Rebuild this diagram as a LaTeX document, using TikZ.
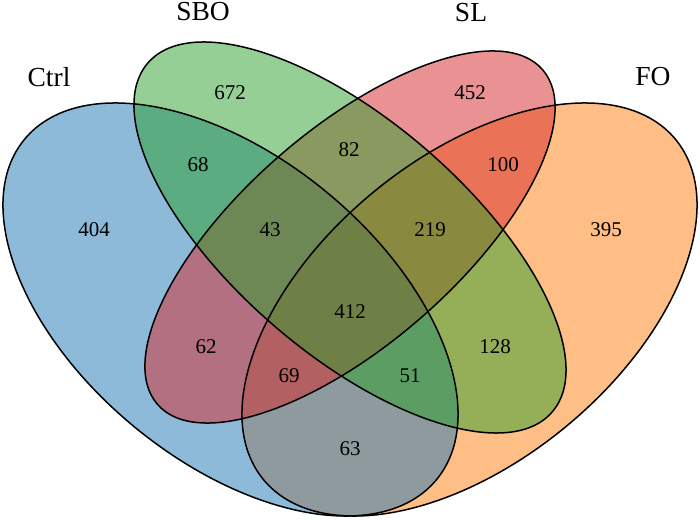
\documentclass[tikz,border=0pt]{standalone}
\usepackage{fontspec}
\setmainfont{Liberation Serif}
\definecolor{cfo}{HTML}{FF7F0E}
\definecolor{cctrl}{HTML}{1F77B4}
\definecolor{csl}{HTML}{D62728}
\definecolor{csbo}{HTML}{2CA02C}
\begin{document}
\begin{tikzpicture}[x=1pt,y=1pt,
  num/.style={font=\fontsize{21}{21}\selectfont, inner sep=0pt},
  setlabel/.style={font=\fontsize{27.5}{27.5}\selectfont, inner sep=0pt},
  setfill/.style={fill opacity=0.5},
  outline/.style={draw=black, line width=1.5pt},
  foell/.style={shift={(469.5,209.5)},rotate=39.57},
  ctrlell/.style={shift={(230.5,209.5)},rotate=-39.57},
  slell/.style={shift={(350,282)},rotate=41.0},
  sboell/.style={shift={(350,281.5)},rotate=-40.8}]
\useasboundingbox (0,0) rectangle (700,519);
\fill[white] (0,0) rectangle (700,519);
% fills (order: FO, Ctrl, SL, SBO)
\fill[cfo,setfill,foell] (0,0) ellipse [x radius=267.2pt, y radius=151.7pt];
\fill[cctrl,setfill,ctrlell] (0,0) ellipse [x radius=267.2pt, y radius=151.7pt];
\fill[csl,setfill,slell] (0,0) ellipse [x radius=255.1pt, y radius=107.5pt];
\fill[csbo,setfill,sboell] (0,0) ellipse [x radius=267.05pt, y radius=116.4pt];
% outlines
\draw[outline,foell] (0,0) ellipse [x radius=267.2pt, y radius=151.7pt];
\draw[outline,ctrlell] (0,0) ellipse [x radius=267.2pt, y radius=151.7pt];
\draw[outline,slell] (0,0) ellipse [x radius=255.1pt, y radius=107.5pt];
\draw[outline,sboell] (0,0) ellipse [x radius=267.05pt, y radius=116.4pt];
% set labels
\node[setlabel] (lctrl) at (49,442) {Ctrl};
\node[setlabel] (lsbo) at (203,507) {SBO};
\node[setlabel] (lsl) at (471,506) {SL};
\node[setlabel] (lfo) at (653,442) {FO};
% counts
\node[num] (n672) at (230,426) {672};
\node[num] (n452) at (470,426) {452};
\node[num] (n68) at (198,354) {68};
\node[num] (n82) at (349,369) {82};
\node[num] (n100) at (503,354) {100};
\node[num] (n404) at (94,289) {404};
\node[num] (n43) at (270,289) {43};
\node[num] (n219) at (430,289) {219};
\node[num] (n395) at (606,289) {395};
\node[num] (n412) at (350,207) {412};
\node[num] (n62) at (206,172) {62};
\node[num] (n128) at (495,172) {128};
\node[num] (n69) at (289,143) {69};
\node[num] (n51) at (410,143) {51};
\node[num] (n63) at (350,70) {63};
\end{tikzpicture}
\end{document}
